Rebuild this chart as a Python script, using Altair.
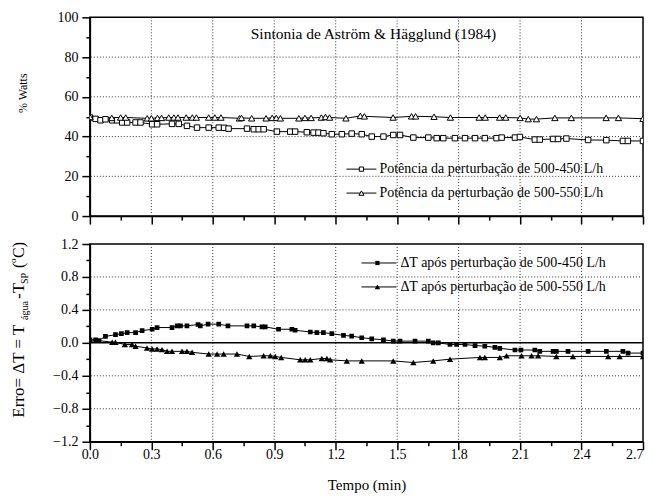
import altair as alt
import pandas as pd

FONT = "Liberation Serif"

# ---------- data ----------
# Top panel: % Watts, disturbance 500-450 L/h (open squares)
t_pw450 = [0.0, 0.028, 0.052, 0.076, 0.109, 0.133, 0.158, 0.182, 0.223, 0.247, 0.304, 0.328,
           0.401, 0.434, 0.474, 0.523, 0.58, 0.629, 0.655, 0.677, 0.767, 0.80, 0.824, 0.848,
           0.913, 0.978, 1.002, 1.059, 1.092, 1.116, 1.14, 1.181, 1.23, 1.278, 1.327, 1.376,
           1.433, 1.481, 1.514, 1.579, 1.652, 1.693, 1.725, 1.782, 1.831, 1.88, 1.928, 1.985,
           2.01, 2.075, 2.099, 2.172, 2.196, 2.261, 2.285, 2.326, 2.432, 2.521, 2.602, 2.626, 2.70]
pw450 = [49.6, 48.9, 48.2, 48.7, 48.2, 48.2, 47.1, 47.1, 47.1, 47.1, 46.2, 46.2,
         46.4, 46.4, 45.4, 44.5, 44.5, 44.5, 44.4, 44.0, 44.0, 43.7, 43.7, 43.7,
         42.5, 42.5, 42.5, 42.2, 42.0, 42.0, 41.7, 41.2, 41.2, 41.5, 41.2, 40.0,
         40.0, 40.8, 40.8, 39.5, 39.5, 39.2, 39.2, 39.2, 39.2, 39.2, 39.2, 39.2,
         39.5, 39.5, 39.8, 38.5, 38.5, 38.8, 38.8, 39.0, 38.3, 38.2, 37.8, 37.8, 37.8]

# Top panel: % Watts, disturbance 500-550 L/h (open triangles)
t_pw550 = [0.0, 0.107, 0.15, 0.175, 0.28, 0.30, 0.33, 0.35, 0.385, 0.41, 0.43, 0.47, 0.50,
           0.52, 0.58, 0.61, 0.64, 0.73, 0.74, 0.79, 0.86, 0.89, 0.91, 0.93, 1.02, 1.05, 1.08,
           1.13, 1.15, 1.17, 1.25, 1.32, 1.34, 1.48, 1.57, 1.59, 1.68, 1.76, 1.90, 1.93, 2.00,
           2.03, 2.10, 2.14, 2.18, 2.27, 2.35, 2.52, 2.58, 2.70]
pw550 = [49.9, 49.4, 49.6, 49.6, 49.2, 49.2, 49.4, 49.4, 49.6, 49.6, 49.6, 49.6, 49.6,
         49.6, 49.6, 49.6, 49.6, 49.2, 49.4, 49.2, 49.2, 49.4, 49.4, 49.2, 49.2, 49.4, 49.4,
         49.6, 49.9, 49.6, 49.2, 50.4, 50.2, 49.6, 50.2, 50.2, 50.0, 49.6, 49.6, 49.6, 49.6,
         49.6, 49.4, 48.8, 48.8, 49.4, 49.4, 49.4, 49.4, 49.0]

# Bottom panel: error after disturbance 500-450 L/h (filled squares)
t_e450 = [0.0, 0.028, 0.044, 0.076, 0.125, 0.154, 0.182, 0.223, 0.255, 0.304, 0.328, 0.401,
          0.426, 0.442, 0.474, 0.528, 0.539, 0.577, 0.629, 0.674, 0.767, 0.80, 0.84, 0.856,
          0.921, 0.986, 1.002, 1.076, 1.108, 1.14, 1.181, 1.238, 1.278, 1.327, 1.376, 1.433,
          1.481, 1.514, 1.587, 1.652, 1.676, 1.701, 1.758, 1.79, 1.831, 1.88, 1.928, 1.977,
          2.001, 2.075, 2.104, 2.172, 2.196, 2.261, 2.277, 2.334, 2.432, 2.521, 2.602, 2.627, 2.70]
e450 = [0.037, 0.037, 0.029, 0.078, 0.099, 0.111, 0.124, 0.124, 0.148, 0.165, 0.186, 0.186,
        0.206, 0.206, 0.206, 0.223, 0.206, 0.227, 0.227, 0.206, 0.206, 0.206, 0.194, 0.194,
        0.165, 0.165, 0.153, 0.132, 0.124, 0.124, 0.111, 0.091, 0.082, 0.062, 0.049, 0.037,
        0.021, 0.021, 0.021, 0.021, 0.0, 0.0, -0.02, -0.02, -0.02, -0.033, -0.041, -0.054,
        -0.066, -0.087, -0.087, -0.087, -0.103, -0.103, -0.103, -0.103, -0.103, -0.103, -0.103, -0.124, -0.124]

# Bottom panel: error after disturbance 500-550 L/h (filled triangles)
t_e550 = [0.0, 0.109, 0.125, 0.171, 0.206, 0.223, 0.279, 0.304, 0.328, 0.352, 0.377, 0.401,
          0.45, 0.474, 0.499, 0.58, 0.621, 0.653, 0.718, 0.778, 0.848, 0.881, 0.905, 0.934,
          1.027, 1.051, 1.076, 1.132, 1.157, 1.173, 1.254, 1.327, 1.481, 1.579, 1.676, 1.758,
          1.904, 1.928, 2.001, 2.034, 2.107, 2.156, 2.188, 2.277, 2.358, 2.53, 2.586, 2.70]
e550 = [0.04, 0.008, 0.008, -0.021, -0.021, -0.041, -0.062, -0.074, -0.074, -0.082, -0.103, -0.103,
        -0.103, -0.103, -0.115, -0.136, -0.136, -0.136, -0.136, -0.165, -0.157, -0.157, -0.165, -0.177,
        -0.206, -0.206, -0.206, -0.19, -0.19, -0.206, -0.219, -0.219, -0.219, -0.239, -0.219, -0.198,
        -0.177, -0.177, -0.177, -0.157, -0.157, -0.157, -0.157, -0.165, -0.165, -0.165, -0.165, -0.165]

x_ticks = [0.0, 0.15, 0.3, 0.45, 0.6, 0.75, 0.9, 1.05, 1.2, 1.35, 1.5, 1.65, 1.8, 1.95,
           2.1, 2.25, 2.4, 2.55, 2.7]
top_y_ticks = [0, 10, 20, 30, 40, 50, 60, 70, 80, 90, 100]
bot_y_ticks = [-1.2, -1.0, -0.8, -0.6, -0.4, -0.2, 0.0, 0.2, 0.4, 0.6, 0.8, 1.0, 1.2]

x_grid = [0.3, 0.6, 0.9, 1.2, 1.5, 1.8, 2.1, 2.4]
top_y_grid = [20, 40, 60, 80]
bot_y_grid = [-0.8, -0.4, 0.4, 0.8]
bot_zero = [0.0]

title_text = "Sintonia de Aström & Hägglund (1984)"
top_legend = ["Potência da perturbação de 500-450 L/h", "Potência da perturbação de 500-550 L/h"]
bot_legend = ["ΔT após perturbação de 500-450 L/h", "ΔT após perturbação de 500-550 L/h"]

W, H1, H2 = 554, 199, 198


def cond(test, a, b):
    return {"condition": {"test": test, "value": a}, "value": b}


MAJ_X = "abs(datum.value/0.3 - round(datum.value/0.3)) < 0.01"
MAJ_Y1 = "abs(datum.value/20 - round(datum.value/20)) < 0.01"
MAJ_Y2 = "abs(datum.value/0.4 - round(datum.value/0.4)) < 0.01"
LAST_X = "datum.value > 2.65"

x_scale = alt.Scale(domain=[0, 2.7], nice=False, zero=False)
y1_scale = alt.Scale(domain=[0, 100], nice=False)
y2_scale = alt.Scale(domain=[-1.2, 1.2], nice=False, zero=False)

df_pw450 = pd.DataFrame({"t": t_pw450, "v": pw450})
df_pw550 = pd.DataFrame({"t": t_pw550, "v": pw550})
df_e450 = pd.DataFrame({"t": t_e450, "v": e450})
df_e550 = pd.DataFrame({"t": t_e550, "v": e550})
df_xgrid = pd.DataFrame({"t": x_grid})
df_y1grid = pd.DataFrame({"v": top_y_grid})
df_y2grid = pd.DataFrame({"v": bot_y_grid})
df_zero = pd.DataFrame({"v": bot_zero})

one = pd.DataFrame({"a": [0]})

GRID_STYLE = dict(color="#333", strokeWidth=1, strokeDash=[1, 2])
AX = dict(labelFont=FONT, labelFontSize=14, labelColor="black", labelOverlap=False,
          titleFont=FONT, titleFontSize=15, titleColor="black", titleFontWeight="normal")

# ---------------- top panel ----------------
x_top = alt.X("t:Q", scale=x_scale, axis=alt.Axis(
    values=x_ticks, labels=False, title=None, grid=False,
    tickSize=cond(MAJ_X, 8, 4), **AX))
y_top = alt.Y("v:Q", scale=y1_scale, axis=alt.Axis(
    values=top_y_ticks, title=None, grid=False,
    labelExpr=f"({MAJ_Y1}) ? format(datum.value, 'd') : ''",
    tickSize=cond(MAJ_Y1, 8, 4), labelPadding=4, **AX))

gx_top = alt.Chart(df_xgrid).mark_rule(**GRID_STYLE).encode(x=x_top)
gy_top = alt.Chart(df_y1grid).mark_rule(**GRID_STYLE).encode(y=y_top)

line450 = alt.Chart(df_pw450).mark_line(color="black", strokeWidth=1, clip=True).encode(x=x_top, y=y_top)
pts450 = alt.Chart(df_pw450).mark_point(shape="square", filled=True, fill="white", stroke="black",
                                         strokeWidth=1, size=30, opacity=1, clip=True).encode(x=x_top, y=y_top)
line550 = alt.Chart(df_pw550).mark_line(color="black", strokeWidth=1, clip=True).encode(x=x_top, y=y_top)
pts550 = alt.Chart(df_pw550).mark_point(shape="triangle-up", filled=True, fill="white", stroke="black",
                                         strokeWidth=1, size=40, opacity=1, clip=True).encode(x=x_top, y=y_top)

title_mark = alt.Chart(one).mark_text(font=FONT, fontSize=15.5, align="center", baseline="middle",
                                      color="black", text=title_text).encode(
    x=alt.value(284), y=alt.value(17))

watts_title = alt.Chart(one).mark_text(font=FONT, fontSize=12, align="center", baseline="alphabetic",
                                       angle=270, color="black", text="% Watts").encode(
    x=alt.value(-63), y=alt.value(76))

top_leg = []
for i, (lab, shp, sz) in enumerate(zip(top_legend, ["square", "triangle-up"], [18, 26])):
    yy = 152 + 24 * i
    top_leg.append(alt.Chart(one).mark_rule(color="black", strokeWidth=1).encode(
        x=alt.value(257), x2=alt.value(287), y=alt.value(yy)))
    top_leg.append(alt.Chart(one).mark_point(shape=shp, filled=True, fill="white", stroke="black",
                                             strokeWidth=1, size=sz, opacity=1).encode(
        x=alt.value(272), y=alt.value(yy)))
    top_leg.append(alt.Chart(one).mark_text(font=FONT, fontSize=14, align="left", baseline="middle",
                                            color="black", text=lab).encode(
        x=alt.value(290), y=alt.value(yy)))

top = alt.layer(gy_top, gx_top, line450, line550, pts450, pts550, title_mark, watts_title,
                *top_leg).properties(width=W, height=H1)

# ---------------- bottom panel ----------------
x_bot = alt.X("t:Q", scale=x_scale, axis=alt.Axis(
    values=x_ticks, title="Tempo (min)", grid=False,
    labelExpr=f"({MAJ_X}) ? format(datum.value, '.1f') : ''",
    labelAlign=cond(LAST_X, "right", "center"),
    tickSize=cond(MAJ_X, 8, 4), labelPadding=-2, titlePadding=16, **AX))
y_bot = alt.Y("v:Q", scale=y2_scale, axis=alt.Axis(
    values=bot_y_ticks, title=None, grid=False,
    labelExpr=f"({MAJ_Y2}) ? format(datum.value, '.1f') : ''",
    tickSize=cond(MAJ_Y2, 8, 4), labelPadding=4, **AX))

gx_bot = alt.Chart(df_xgrid).mark_rule(**GRID_STYLE).encode(x=x_bot)
gy_bot = alt.Chart(df_y2grid).mark_rule(**GRID_STYLE).encode(y=y_bot)
zero_rule = alt.Chart(df_zero).mark_rule(color="black", strokeWidth=1.5).encode(y=y_bot)

bline450 = alt.Chart(df_e450).mark_line(color="black", strokeWidth=1, clip=True).encode(x=x_bot, y=y_bot)
bpts450 = alt.Chart(df_e450).mark_point(shape="square", filled=True, color="black",
                                         size=22, opacity=1, clip=True).encode(x=x_bot, y=y_bot)
bline550 = alt.Chart(df_e550).mark_line(color="black", strokeWidth=1, clip=True).encode(x=x_bot, y=y_bot)
bpts550 = alt.Chart(df_e550).mark_point(shape="triangle-up", filled=True, color="black",
                                         size=40, opacity=1, clip=True).encode(x=x_bot, y=y_bot)

# y title: Erro= ΔT = T_água - T_SP (°C), built from pieces (rotated)
pieces = [
    ("Erro= ΔT = T", 17, -66, 174),
    ("água", 10, -62, 76),
    ("-T", 17, -66, 55),
    ("SP", 10, -62, 40),
    ("(", 16, -66, 24),
    ("o", 9, -74, 19),
    ("C)", 16, -66, 14),
]
erro_title = []
for txt, fs, xx, yy in pieces:
    erro_title.append(alt.Chart(one).mark_text(font=FONT, fontSize=fs, align="left",
                                               baseline="alphabetic", angle=270, color="black",
                                               text=txt).encode(x=alt.value(xx), y=alt.value(yy)))

bot_leg = []
for i, (lab, shp, sz) in enumerate(zip(bot_legend, ["square", "triangle-up"], [18, 30])):
    yy = 19 + 24 * i
    bot_leg.append(alt.Chart(one).mark_rule(color="black", strokeWidth=1).encode(
        x=alt.value(272), x2=alt.value(307), y=alt.value(yy)))
    bot_leg.append(alt.Chart(one).mark_point(shape=shp, filled=True, color="black",
                                             size=sz, opacity=1).encode(
        x=alt.value(288), y=alt.value(yy)))
    bot_leg.append(alt.Chart(one).mark_text(font=FONT, fontSize=14, align="left", baseline="middle",
                                            color="black", text=lab).encode(
        x=alt.value(311), y=alt.value(yy)))

bottom = alt.layer(gy_bot, gx_bot, zero_rule, bline450, bline550, bpts450, bpts550,
                   *erro_title, *bot_leg).properties(width=W, height=H2)

chart = alt.vconcat(top, bottom, spacing=10).properties(
    padding={"left": 0, "top": 1, "right": 0, "bottom": 0}
).configure_view(stroke="black", strokeWidth=1.5).configure_axis(
    labelFont=FONT, labelFontSize=14, labelColor="black", labelOverlap=False,
    titleFont=FONT, titleFontSize=15, titleColor="black", titleFontWeight="normal",
    domainColor="black", domainWidth=1.5, tickColor="black", tickWidth=1.5
)

chart.save("out.html", embed_options={"renderer": "svg", "actions": False})
